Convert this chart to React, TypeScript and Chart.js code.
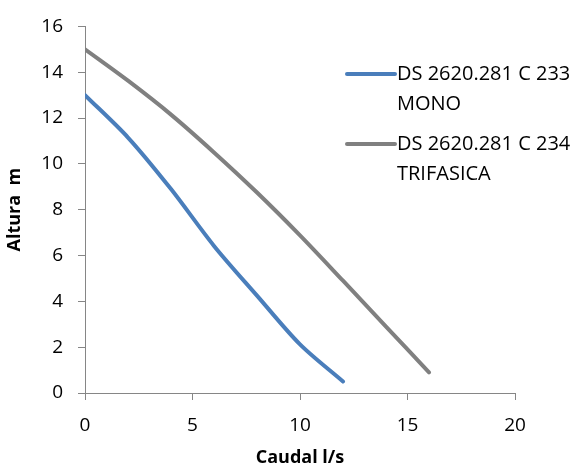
import React, { useEffect, useRef } from "react";
import { Chart, registerables } from "chart.js";

Chart.register(...registerables);

const monoFlow = [0, 2, 4, 6, 8, 10, 12];
const monoHead = [13, 11.15, 8.9, 6.42, 4.25, 2.12, 0.5];
const triFlow = [0, 2, 4, 6, 8, 10, 12, 14, 16];
const triHead = [15, 13.63, 12.15, 10.5, 8.75, 6.88, 4.9, 2.9, 0.9];
const seriesLabels = [
  ["DS 2620.281 C 233", "MONO"],
  ["DS 2620.281 C 234", "TRIFASICA"],
];
const seriesColors = ["#4a7ebb", "#808080"];
const xTicks = [0, 5, 10, 15, 20];
const yTicks = [0, 2, 4, 6, 8, 10, 12, 14, 16];

const FONT = "'Open Sans', sans-serif";
const AXIS = "#868686";

const legendPlugin = {
  id: "customLegend",
  afterDraw(chart: any) {
    const ctx = chart.ctx;
    const rows = [74, 144];
    ctx.save();
    chart.data.datasets.forEach((ds: any, i: number) => {
      const y = rows[i];
      ctx.strokeStyle = ds.borderColor;
      ctx.lineWidth = 4;
      ctx.lineCap = "round";
      ctx.beginPath();
      ctx.moveTo(347, y);
      ctx.lineTo(395, y);
      ctx.stroke();
      ctx.fillStyle = "#000";
      ctx.font = `20px ${FONT}`;
      ctx.textBaseline = "middle";
      ctx.textAlign = "left";
      const lines: string[] = ds.legendLines;
      lines.forEach((t, j) => ctx.fillText(t, 397, y + j * 30));
    });
    ctx.restore();
  },
};

export default function App() {
  const ref = useRef<HTMLCanvasElement>(null);
  useEffect(() => {
    document.body.style.margin = "0";
    const chart = new Chart(ref.current!, {
      type: "line",
      data: {
        datasets: [
          {
            label: seriesLabels[0].join(" "),
            legendLines: seriesLabels[0],
            data: monoFlow.map((x, i) => ({ x, y: monoHead[i] })),
            borderColor: seriesColors[0],
            backgroundColor: seriesColors[0],
            borderWidth: 4,
            borderCapStyle: "round",
            pointRadius: 0,
            tension: 0.3,
          } as any,
          {
            label: seriesLabels[1].join(" "),
            legendLines: seriesLabels[1],
            data: triFlow.map((x, i) => ({ x, y: triHead[i] })),
            borderColor: seriesColors[1],
            backgroundColor: seriesColors[1],
            borderWidth: 4,
            borderCapStyle: "round",
            pointRadius: 0,
            tension: 0.3,
          } as any,
        ],
      },
      options: {
        animation: false,
        responsive: false,
        maintainAspectRatio: false,
        layout: { padding: { top: 24, right: 62, left: 0, bottom: 0 } },
        plugins: { legend: { display: false }, tooltip: { enabled: false } },
        scales: {
          x: {
            type: "linear",
            min: 0,
            max: 20,
            afterBuildTicks: (s: any) => {
              s.ticks = xTicks.map((v) => ({ value: v }));
            },
            afterFit: (s: any) => {
              s.height = 74;
            },
            grid: { drawOnChartArea: false, drawTicks: true, tickLength: 7, color: AXIS, lineWidth: 1 },
            border: { color: AXIS, width: 1 },
            ticks: { color: "#000", font: { family: FONT, size: 19 }, padding: 14, maxRotation: 0 },
            title: {
              display: true,
              text: "Caudal l/s",
              color: "#000",
              font: { family: FONT, size: 18, weight: "bold" },
              padding: { top: 4, bottom: -2 },
            },
          },
          y: {
            type: "linear",
            min: 0,
            max: 16,
            afterBuildTicks: (s: any) => {
              s.ticks = yTicks.map((v) => ({ value: v }));
            },
            afterFit: (s: any) => {
              s.width = 85;
            },
            grid: { drawOnChartArea: false, drawTicks: true, tickLength: 7, color: AXIS, lineWidth: 1 },
            border: { color: AXIS, width: 1 },
            ticks: { color: "#000", font: { family: FONT, size: 19 }, padding: 15 },
            title: {
              display: true,
              text: "Altura  m",
              color: "#000",
              font: { family: FONT, size: 18, weight: "bold" },
              padding: { top: 4, bottom: 0 },
            },
          },
        },
      } as any,
      plugins: [legendPlugin],
    });
    return () => chart.destroy();
  }, []);
  return (
    <div style={{ width: 577, height: 467 }}>
      <canvas ref={ref} width={577} height={467} />
    </div>
  );
}
